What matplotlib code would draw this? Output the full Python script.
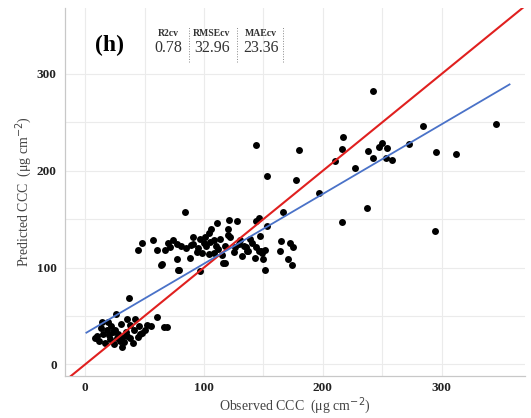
import numpy as np
import matplotlib
matplotlib.use("Agg")
from matplotlib import pyplot as plt
from matplotlib.lines import Line2D

# observed vs predicted CCC (ug cm-2)
low_obs = [37, 26, 14, 13, 10, 15, 18, 22, 25, 28, 31, 29, 34, 35, 38, 42, 41, 45, 46, 50,
           52, 55, 60, 66, 69, 21, 35, 8, 12, 17, 20, 24, 27, 31, 33, 38, 40, 44, 48, 19, 30, 23]
low_pred = [69, 52, 44, 38, 29, 31, 36, 40, 36, 31, 28, 24, 33, 47, 41, 47, 36, 40, 31, 36,
            41, 40, 49, 39, 39, 26, 29, 27, 24, 22, 30, 21, 27, 18, 23, 27, 22, 28, 32, 44, 42, 33]

mid_obs = [48, 44, 57, 65, 77, 79, 88, 91, 91, 97, 116, 84, 74, 77, 81, 71, 67, 64, 78, 89,
           111, 121, 128, 104, 101, 105, 102, 97, 113, 120, 122, 98, 104, 108, 112, 118, 118,
           126, 129, 134, 137, 144, 143, 148, 150, 147, 135, 136, 146, 151, 149, 151, 165, 172,
           175, 164, 171, 174, 146, 144, 153, 139, 166, 100, 95, 108, 110, 115, 85, 60, 70, 125,
           130, 132, 140, 120, 106, 94]
mid_pred = [125, 118, 128, 104, 109, 97, 110, 124, 131, 96, 105, 157, 128, 124, 122, 121, 118, 103, 97, 123,
            146, 149, 148, 136, 131, 126, 122, 129, 129, 134, 131, 115, 114, 115, 119, 122, 105,
            121, 124, 122, 117, 121, 110, 117, 109, 133, 121, 117, 117, 118, 115, 97, 127, 125,
            121, 117, 109, 103, 151, 148, 143, 129, 157, 125, 120, 128, 122, 113, 120, 118, 125, 116,
            128, 112, 125, 140, 140, 116]

high_obs = [242, 346, 284, 144, 217, 180, 216, 250, 247, 254, 238, 242, 253, 258, 295, 312,
            272, 210, 227, 153, 177, 197, 237, 216, 294]
high_pred = [282, 248, 246, 227, 235, 221, 222, 229, 224, 223, 220, 213, 213, 211, 219, 217,
             228, 210, 203, 195, 190, 177, 161, 147, 138]

observed = np.array(low_obs + mid_obs + high_obs)
predicted = np.array(low_pred + mid_pred + high_pred)

fit_slope = 0.72
fit_intercept = 32
fit_range = [1, 357]

stats_names = ['R2cv', 'RMSEcv', 'MAEcv']
stats_values = ['0.78', '32.96', '23.36']

serif = 'Liberation Serif'

fig = plt.figure(figsize=(5.31, 4.18), dpi=100)
ax = fig.add_axes([0.1224, 0.1005, 0.8663, 0.8805])

ax.set_xlim(-17, 370)
ax.set_ylim(-12, 368)
ax.set_xticks([0, 100, 200, 300])
ax.set_yticks([0, 100, 200, 300])
ax.set_xticks([50, 150, 250], minor=True)
ax.set_yticks([50, 150, 250], minor=True)
ax.grid(True, which='both', color='#ebebeb', linewidth=0.8)
ax.set_axisbelow(True)
ax.tick_params(axis='x', which='both', length=0, pad=4)
ax.tick_params(axis='y', which='both', length=0, pad=6)
for lab in ax.get_xticklabels() + ax.get_yticklabels():
    lab.set_fontfamily(serif)
    lab.set_fontweight('bold')
    lab.set_fontsize(9.5)
    lab.set_color('#222222')

for s in ['top', 'right']:
    ax.spines[s].set_visible(False)
for s in ['left', 'bottom']:
    ax.spines[s].set_color('#c8c8c8')
    ax.spines[s].set_linewidth(0.9)

ax.scatter(observed, predicted, s=25, color='black', zorder=3, linewidths=0)
ax.plot([-17, 370], [-17, 370], color='#e0201f', linewidth=1.5, zorder=4)
fx = np.array(fit_range)
ax.plot(fx, fit_intercept + fit_slope * fx, color='#4a72c8', linewidth=1.3, zorder=4)

ax.set_xlabel(r'Observed CCC  ($\mathregular{\mu}$g cm$^{-2}$)', fontfamily=serif,
              fontsize=10, color='#444444', labelpad=1)
ax.set_ylabel(r'Predicted CCC  ($\mathregular{\mu}$g cm$^{-2}$)', fontfamily=serif,
              fontsize=10, color='#444444', labelpad=2)

fig.text(0.207, 0.892, '(h)', fontfamily=serif, fontweight='bold', fontsize=17,
         ha='center', va='center')
hx = [0.3165, 0.399, 0.4915]
for x, n, v in zip(hx, stats_names, stats_values):
    fig.text(x, 0.921, n, fontfamily=serif, fontweight='bold', fontsize=7,
             ha='center', va='center', color='#333333')
    fig.text(x, 0.884, v, fontfamily=serif, fontsize=11.5,
             ha='center', va='center', color='#333333')
for x in [0.356, 0.446, 0.533]:
    fig.add_artist(Line2D([x, x], [0.852, 0.938], transform=fig.transFigure,
                          color='#888888', linewidth=0.7, linestyle=':'))

fig.savefig('out.png', dpi=100)
